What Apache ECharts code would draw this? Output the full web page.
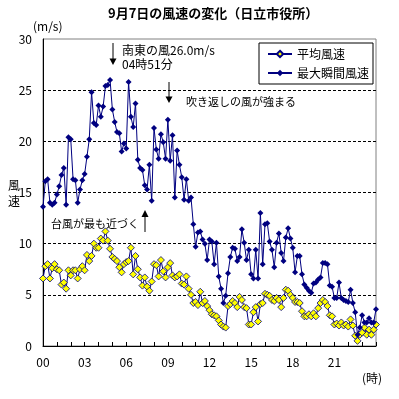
<!DOCTYPE html>
<html>
<head>
<meta charset="utf-8">
<script src="https://cdn.jsdelivr.net/npm/echarts@6/dist/echarts.min.js"></script>
<style>
  html, body { margin: 0; padding: 0; background: #fff; }
  #chart { width: 399px; height: 399px; }
</style>
</head>
<body>
<div id="chart"></div>
<script>
const FONT = '"Noto Sans CJK JP", sans-serif';
const NAVY = '#000080';

// 10分ごとの時刻 (00:00〜24:00)
const times = [];
for (let i = 0; i <= 144; i++) {
  const h = Math.floor(i / 6), m = (i % 6) * 10;
  times.push(String(h).padStart(2, '0') + ':' + String(m).padStart(2, '0'));
}
const hourLabels = ['00', '03', '06', '09', '12', '15', '18', '21'];

// 平均風速 (m/s)
const avgSpeed = [
  6.6, 7.8, 8.0, 6.6, 7.6, 8.0, 7.5, 7.4, 6.0, 6.2, 5.6, 7.4,
  6.9, 7.4, 7.4, 6.6, 7.5, 7.8, 7.4, 8.9, 8.3, 8.8, 10.0, 9.6,
  9.6, 10.5, 10.3, 11.2, 10.3, 9.5, 8.7, 8.5, 8.3, 7.7, 7.2, 8.0,
  8.2, 8.3, 9.6, 7.0, 8.8, 7.5, 6.7, 5.9, 6.7, 5.8, 5.4, 6.3,
  8.0, 7.9, 6.8, 8.4, 7.3, 6.7, 7.7, 8.1, 6.9, 6.7, 6.8, 7.0,
  6.1, 6.0, 6.8, 5.6, 5.0, 4.2, 4.3, 4.0, 5.3, 4.2, 4.4, 3.9,
  3.5, 3.1, 3.0, 2.9, 2.5, 2.1, 1.9, 1.8, 3.9, 4.1, 4.4, 4.2,
  3.8, 4.8, 4.5, 3.8, 3.7, 2.1, 2.1, 3.3, 3.8, 2.4, 4.1, 4.2,
  5.1, 5.0, 4.9, 4.5, 4.4, 4.7, 4.5, 3.8, 4.7, 5.5, 5.4, 5.0,
  4.7, 4.3, 4.3, 4.2, 3.4, 2.9, 2.9, 3.1, 2.9, 3.2, 2.9, 3.7,
  4.2, 4.5, 4.3, 3.9, 3.0, 2.9, 2.1, 2.2, 2.0, 2.3, 2.0, 2.1,
  1.9, 2.6, 2.0, 1.0, 0.5, 1.1, 1.3, 1.8, 1.1, 1.6, 1.1, 1.6,
  2.1
];

// 最大瞬間風速 (m/s)
const gustSpeed = [
  13.6, 16.1, 16.3, 14.0, 13.8, 14.0, 14.8, 15.6, 16.7, 17.4, 13.8, 20.4,
  20.2, 16.3, 16.2, 14.0, 15.3, 16.2, 16.8, 18.5, 20.2, 24.8, 21.8, 21.6,
  23.5, 22.4, 23.4, 25.4, 25.5, 26.0, 23.1, 21.9, 20.9, 20.8, 19.0, 19.8,
  19.3, 25.8, 22.4, 21.4, 23.7, 18.2, 17.4, 17.2, 15.7, 15.3, 17.7, 14.2,
  21.3, 19.2, 18.3, 20.7, 19.9, 18.3, 22.1, 18.1, 20.6, 14.5, 19.1, 17.7,
  16.5, 14.3, 16.3, 14.2, 14.5, 11.9, 9.7, 11.1, 11.2, 10.4, 10.0, 8.4,
  10.4, 10.2, 8.0, 10.1, 6.8, 5.6, 4.2, 4.9, 7.1, 8.7, 9.6, 9.5,
  8.3, 8.7, 11.4, 10.1, 8.4, 9.4, 7.0, 6.6, 9.4, 6.6, 13.0, 8.0,
  11.9, 12.0, 10.2, 9.4, 7.7, 10.1, 11.0, 9.1, 8.3, 10.6, 11.5, 10.5,
  9.6, 7.2, 8.8, 8.8, 7.0, 6.0, 5.7, 5.4, 5.2, 6.1, 6.2, 6.5,
  6.7, 8.1, 8.1, 8.0, 5.9, 5.8, 4.7, 4.7, 6.2, 4.7, 4.5, 4.4,
  4.3, 5.5, 4.2, 3.3, 1.1, 1.8, 3.0, 2.3, 2.3, 2.7, 2.3, 2.3,
  3.6
];

const chart = echarts.init(document.getElementById('chart'));

const txt = (text, x, y, size, extra) => ({
  type: 'text', x: x, y: y, silent: true,
  style: Object.assign({ text: text, fontSize: size, fontFamily: FONT, fill: '#000', align: 'left', verticalAlign: 'middle' }, extra || {})
});
const arrowDown = (x, y1, y2) => [
  { type: 'line', silent: true, shape: { x1: x, y1: y1, x2: x, y2: y2 - 5 }, style: { stroke: '#000', lineWidth: 1 } },
  { type: 'polygon', silent: true, shape: { points: [[x - 3.5, y2 - 6.5], [x + 3.5, y2 - 6.5], [x, y2]] }, style: { fill: '#000' } }
];
const arrowUp = (x, y1, y2) => [
  { type: 'line', silent: true, shape: { x1: x, y1: y1 + 5, x2: x, y2: y2 }, style: { stroke: '#000', lineWidth: 1 } },
  { type: 'polygon', silent: true, shape: { points: [[x, y1], [x - 3.5, y1 + 7], [x + 3.5, y1 + 7]] }, style: { fill: '#000' } }
];

chart.setOption({
  animation: false,
  textStyle: { fontFamily: FONT },
  title: {
    text: '9月7日の風速の変化（日立市役所）',
    left: 108, top: 7, padding: 0,
    textStyle: { fontSize: 13, fontWeight: 'bold', color: '#000', fontFamily: FONT }
  },
  grid: {
    left: 43, top: 39, width: 333, height: 307,
    show: true, borderColor: '#808080', borderWidth: 1, backgroundColor: '#fff'
  },
  legend: {
    data: ['平均風速', '最大瞬間風速'],
    orient: 'vertical', left: 259, top: 43,
    padding: [4, 4, 4, 8], itemGap: 5, itemWidth: 24, itemHeight: 8,
    backgroundColor: '#fff', borderColor: '#000', borderWidth: 1, borderRadius: 0,
    textStyle: { fontSize: 12, color: '#000', fontFamily: FONT, lineHeight: 14 }
  },
  xAxis: {
    type: 'category', data: times, boundaryGap: false,
    axisLine: { lineStyle: { color: '#000', width: 1 } },
    axisTick: { inside: true, length: 4, interval: i => i % 6 === 0, lineStyle: { color: '#000' } },
    axisLabel: {
      interval: i => i % 18 === 0 && i < 144,
      formatter: (v, i) => hourLabels[i / 18] || '',
      margin: 10, fontSize: 12, color: '#000', fontFamily: FONT
    },
    splitLine: { show: false }
  },
  yAxis: {
    type: 'value', min: 0, max: 30, interval: 5,
    axisLine: { show: true, lineStyle: { color: '#000', width: 1 } },
    axisTick: { show: false },
    axisLabel: { margin: 11, fontSize: 12, color: '#000', fontFamily: FONT },
    splitLine: { show: true, showMinLine: false, showMaxLine: false, lineStyle: { color: '#000', type: [3, 2], width: 1 } }
  },
  series: [
    {
      name: '平均風速', type: 'line', data: avgSpeed,
      symbol: 'diamond', symbolSize: 7, showAllSymbol: true,
      lineStyle: { color: NAVY, width: 1 },
      itemStyle: { color: '#ffff00', borderColor: NAVY, borderWidth: 0.8 },
      emphasis: { disabled: true }
    },
    {
      name: '最大瞬間風速', type: 'line', data: gustSpeed,
      symbol: 'diamond', symbolSize: 6, showAllSymbol: true,
      lineStyle: { color: NAVY, width: 1 },
      itemStyle: { color: NAVY },
      emphasis: { disabled: true }
    }
  ],
  graphic: [
    txt('(m/s)', 33, 26, 12),
    txt('風\n速', 14, 193, 12, { align: 'center', lineHeight: 16 }),
    txt('(時)', 362, 378, 12),
    ...arrowDown(113, 43, 65),
    txt('南東の風26.0m/s', 122, 50, 12),
    txt('04時51分', 122, 64, 12),
    ...arrowDown(169, 82, 103),
    txt('吹き返しの風が強まる', 186, 102, 11),
    ...arrowUp(145, 210, 232),
    txt('台風が最も近づく', 51, 224, 11)
  ]
});
</script>
</body>
</html>
